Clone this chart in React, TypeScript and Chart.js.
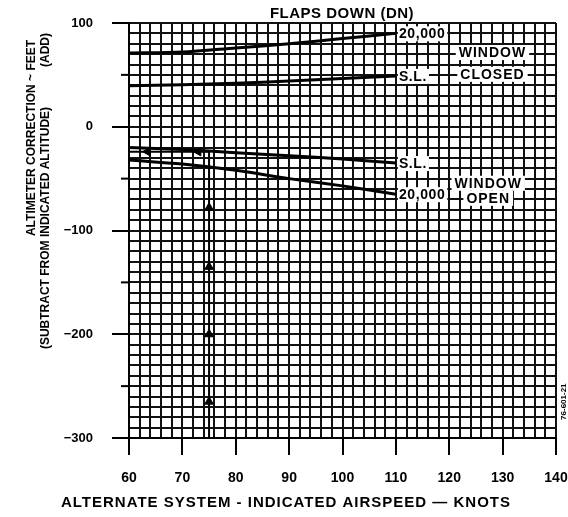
import React, { useEffect, useRef } from 'react';
import { Chart, registerables } from 'chart.js';

Chart.register(...registerables);

// ---- data ----
const knots = [60, 70, 80, 90, 100, 110];
const closed20k = [71, 72, 76, 80, 85, 90];
const closedSL = [39.5, 40.5, 42, 44, 46.5, 49];
const openSL = [-20, -22, -25, -28, -31, -35];
const open20k = [-32, -36, -42, -50, -57, -65];

// worked example path
const exampleX = [75, 75, 60];
const exampleY = [-300, -24, -24];
const arrowUpY = [-78, -135, -200, -265];
const arrowLeftX = [63.5, 73];

// axes
const xTickValues = [60, 70, 80, 90, 100, 110, 120, 130, 140];
const yMajorTicks = [100, 0, -100, -200, -300];
const yMinorTicks = [50, -50, -150, -250];

const curveLabels = [
  { text: '20,000', x: 110, y: 90 },
  { text: 'S.L.', x: 110, y: 49 },
  { text: 'S.L.', x: 110, y: -35 },
  { text: '20,000', x: 110, y: -65 },
];
const conditionLabels = [
  { text: 'WINDOW', x: 128.1, y: 72 },
  { text: 'CLOSED', x: 128.1, y: 51 },
  { text: 'WINDOW', x: 127.3, y: -54 },
  { text: 'OPEN', x: 127.3, y: -68.5 },
];

const TITLE = 'FLAPS DOWN (DN)';
const X_TITLE = 'ALTERNATE SYSTEM - INDICATED AIRSPEED \u2014 KNOTS';
const Y_TITLE = 'ALTIMETER CORRECTION ~ FEET';
const Y_ADD = '(ADD)';
const Y_SUB = '(SUBTRACT FROM INDICATED ALTITUDE)';
const FIG_ID = '76-601-21';

const FONT = '"Liberation Sans", Arial, Helvetica, sans-serif';

const pts = (xs: number[], ys: number[]) => xs.map((v, i) => ({ x: v, y: ys[i] }));

const fmtY = (v: number) => (v < 0 ? '\u2212' + Math.abs(v) : String(v));

const overlay = {
  id: 'overlay',
  afterDatasetsDraw(chart: any) {
    const { ctx, scales } = chart;
    const x = scales.x;
    const y = scales.y;
    ctx.save();
    // minor y ticks (50 ft)
    ctx.strokeStyle = '#000';
    ctx.lineWidth = 2;
    yMinorTicks.forEach((v) => {
      const py = y.getPixelForValue(v);
      ctx.beginPath();
      ctx.moveTo(x.left - 8, py);
      ctx.lineTo(x.left, py);
      ctx.stroke();
    });

    ctx.font = 'bold 14px ' + FONT;
    (ctx as any).letterSpacing = '0.6px';
    ctx.textBaseline = 'middle';
    // curve labels
    curveLabels.forEach((l) => {
      const px = x.getPixelForValue(l.x) + 2;
      const py = y.getPixelForValue(l.y);
      const w = ctx.measureText(l.text).width;
      ctx.fillStyle = '#fff';
      ctx.fillRect(px, py - 7, w + 3, 15);
      ctx.fillStyle = '#000';
      ctx.textAlign = 'left';
      ctx.fillText(l.text, px + 1, py + 1);
    });
    // condition labels
    (ctx as any).letterSpacing = '1px';
    conditionLabels.forEach((l) => {
      const px = x.getPixelForValue(l.x);
      const py = y.getPixelForValue(l.y);
      const w = ctx.measureText(l.text).width;
      ctx.fillStyle = '#fff';
      ctx.fillRect(px - w / 2 - 3, py - 7, w + 6, 15);
      ctx.fillStyle = '#000';
      ctx.textAlign = 'center';
      ctx.fillText(l.text, px, py + 1);
    });
    ctx.restore();
  },
  afterDraw(chart: any) {
    const { ctx, scales } = chart;
    const x = scales.x;
    const y = scales.y;
    ctx.save();
    ctx.fillStyle = '#000';
    ctx.textBaseline = 'middle';
    ctx.textAlign = 'center';
    // top title
    ctx.font = 'bold 15px ' + FONT;
    (ctx as any).letterSpacing = '0.5px';
    ctx.fillText(TITLE, 342, 14);
    // x title
    (ctx as any).letterSpacing = '1px';
    ctx.fillText(X_TITLE, 286, 503);
    // y titles
    ctx.font = 'bold 12px ' + FONT;
    (ctx as any).letterSpacing = '0px';
    ctx.save();
    ctx.translate(32, 138);
    ctx.rotate(-Math.PI / 2);
    ctx.fillText(Y_TITLE, 0, 0);
    ctx.restore();
    ctx.save();
    ctx.translate(46, 50);
    ctx.rotate(-Math.PI / 2);
    ctx.fillText(Y_ADD, 0, 0);
    ctx.restore();
    ctx.save();
    ctx.translate(46, 228);
    ctx.rotate(-Math.PI / 2);
    ctx.fillText(Y_SUB, 0, 0);
    ctx.restore();
    // figure id
    ctx.font = 'bold 8px ' + FONT;
    ctx.save();
    ctx.translate(x.right + 8, y.getPixelForValue(-265));
    ctx.rotate(-Math.PI / 2);
    ctx.fillText(FIG_ID, 0, 0);
    ctx.restore();
    ctx.restore();
  },
};

export default function App() {
  const ref = useRef<HTMLCanvasElement | null>(null);
  useEffect(() => {
    if (!ref.current) return;
    Chart.defaults.font.family = FONT;
    const lineDs = (data: number[]) => ({
      type: 'line' as const,
      data: pts(knots, data),
      borderColor: '#000',
      borderWidth: 3,
      pointRadius: 0,
      tension: 0.3,
      fill: false,
    });
    const chart = new Chart(ref.current, {
      type: 'line',
      data: {
        datasets: [
          lineDs(closed20k),
          lineDs(closedSL),
          lineDs(openSL),
          lineDs(open20k),
          {
            type: 'line',
            data: pts(exampleX, exampleY),
            borderColor: '#000',
            borderWidth: 2,
            pointRadius: 0,
            tension: 0,
          },
          {
            type: 'scatter',
            data: arrowUpY.map((v) => ({ x: exampleX[0], y: v })),
            pointStyle: 'triangle',
            pointRadius: 5,
            rotation: 0,
            backgroundColor: '#000',
            borderColor: '#000',
          },
          {
            type: 'scatter',
            data: arrowLeftX.map((v) => ({ x: v, y: exampleY[1] })),
            pointStyle: 'triangle',
            pointRadius: 5,
            rotation: 270,
            backgroundColor: '#000',
            borderColor: '#000',
          },
        ] as any,
      },
      options: {
        animation: false,
        responsive: false,
        events: [],
        layout: { padding: { left: 0, right: 12, top: 23, bottom: 0 } },
        plugins: { legend: { display: false }, tooltip: { enabled: false }, title: { display: false } },
        scales: {
          x: {
            type: 'linear',
            position: 'bottom',
            min: 60,
            max: 140,
            afterFit: (s: any) => {
              s.height = 79;
              s.paddingLeft = 0;
              s.paddingRight = 0;
            },
            afterBuildTicks: (s: any) => {
              const t = [];
              for (let v = 60; v <= 140; v += 2) t.push({ value: v });
              s.ticks = t;
            },
            ticks: {
              autoSkip: false,
              maxRotation: 0,
              padding: 15,
              color: '#000',
              font: { size: 14, weight: 'bold' },
              callback: (v: any) => (xTickValues.includes(Number(v)) ? String(v) : ''),
            },
            grid: {
              color: '#111',
              lineWidth: 2,
              drawTicks: true,
              tickLength: 17,
              tickWidth: 2,
              tickColor: (c: any) => (c.tick && xTickValues.includes(c.tick.value) ? '#000' : 'rgba(0,0,0,0)'),
            },
            border: { display: true, color: '#000', width: 2 },
          },
          y: {
            type: 'linear',
            min: -300,
            max: 100,
            afterFit: (s: any) => {
              s.width = 129;
              s.paddingTop = 0;
              s.paddingBottom = 0;
            },
            afterBuildTicks: (s: any) => {
              const t = [];
              for (let v = -300; v <= 100; v += 10) t.push({ value: v });
              s.ticks = t;
            },
            ticks: {
              autoSkip: false,
              padding: 19,
              color: '#000',
              font: { size: 13, weight: 'bold' },
              callback: (v: any) => (yMajorTicks.includes(Number(v)) ? fmtY(Number(v)) : ''),
            },
            grid: {
              color: '#111',
              lineWidth: 2,
              drawTicks: true,
              tickLength: 17,
              tickWidth: 2,
              tickColor: (c: any) => (c.tick && yMajorTicks.includes(c.tick.value) ? '#000' : 'rgba(0,0,0,0)'),
            },
            border: { display: true, color: '#000', width: 2 },
          },
        },
      },
      plugins: [overlay],
    } as any);
    return () => chart.destroy();
  }, []);
  return (
    <div style={{ position: 'fixed', left: 0, top: 0, width: 568, height: 517, background: '#fff' }}>
      <canvas ref={ref} width={568} height={517} style={{ display: 'block' }} />
    </div>
  );
}
